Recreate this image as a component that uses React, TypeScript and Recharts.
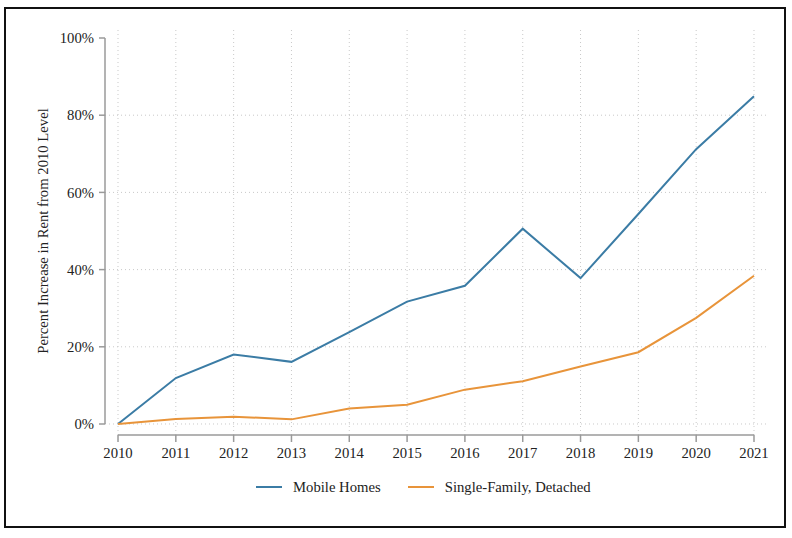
import React from 'react';
import { LineChart, Line, XAxis, YAxis, ReferenceLine } from 'recharts';

const years = [2010, 2011, 2012, 2013, 2014, 2015, 2016, 2017, 2018, 2019, 2020, 2021];
const mobileHomes = [0, 11.9, 18.0, 16.1, 23.8, 31.7, 35.8, 50.6, 37.8, 54.4, 71.2, 84.9];
const singleFamily = [0, 1.3, 1.9, 1.2, 4.0, 5.0, 8.9, 11.1, 14.9, 18.6, 27.5, 38.4];
const yTicks = [0, 20, 40, 60, 80, 100];
const yGrid = [0, 20, 40, 60, 80];

const series = [
  { key: 'mobile', name: 'Mobile Homes', color: '#3b7ca5' },
  { key: 'single', name: 'Single-Family, Detached', color: '#e8943a' },
];

const data = years.map((year, i) => ({ year, mobile: mobileHomes[i], single: singleFamily[i] }));

const X_MIN = 2009.775;
const X_MAX = 2021.225;
const Y_MIN = -2.85;
const Y_MAX = 102.85;

const font = '"Liberation Serif", "Times New Roman", serif';
const fs = 14.7;
const axisGray = '#9a9a9a';
const gridGray = '#c9c9c9';

const YLabel = ({ viewBox }: any) => {
  const cx = 43;
  const cy = viewBox.y + viewBox.height / 2;
  return (
    <text
      x={cx}
      y={cy}
      transform={`rotate(-90 ${cx} ${cy})`}
      textAnchor="middle"
      dominantBaseline="central"
      fontFamily={font}
      fontSize={fs}
      fill="#222"
    >
      Percent Increase in Rent from 2010 Level
    </text>
  );
};

const App = () => {
  return (
    <div style={{ position: 'absolute', left: 0, top: 0, width: 792, height: 538, background: '#fff', fontFamily: font }}>
      <div
        style={{
          position: 'absolute',
          left: 4,
          top: 7,
          width: 778,
          height: 517,
          border: '2px solid #111',
        }}
      />
      <div style={{ position: 'absolute', left: 0, top: 0 }}>
        <LineChart width={792} height={538} data={data} margin={{ top: 27, right: 25, bottom: 73, left: 45 }}>
          <XAxis
            dataKey="year"
            type="number"
            domain={[X_MIN, X_MAX]}
            ticks={years}
            allowDataOverflow
            height={30}
            axisLine={false}
            tickLine={{ stroke: axisGray, strokeWidth: 1.5 }}
            tickSize={7}
            tickMargin={6}
            tick={{ fontFamily: font, fontSize: fs, fill: '#222' }}
          />
          <YAxis
            type="number"
            domain={[Y_MIN, Y_MAX]}
            ticks={yTicks}
            allowDataOverflow
            width={60}
            axisLine={false}
            tickLine={{ stroke: axisGray, strokeWidth: 1.5 }}
            tickSize={6}
            tickMargin={5}
            tickFormatter={(v: number) => `${v}%`}
            tick={{ fontFamily: font, fontSize: fs, fill: '#222' }}
            label={<YLabel />}
          />
          {yGrid.map((v) => (
            <ReferenceLine key={`h${v}`} y={v} stroke={gridGray} strokeDasharray="1 3" ifOverflow="visible" />
          ))}
          {years.map((yr) => (
            <ReferenceLine key={`v${yr}`} x={yr} stroke={gridGray} strokeDasharray="1 3" ifOverflow="visible" />
          ))}
          <ReferenceLine
            segment={[{ x: X_MIN, y: 0 }, { x: X_MIN, y: 100 }]}
            stroke={axisGray}
            strokeWidth={1.5}
            ifOverflow="visible"
          />
          <ReferenceLine
            segment={[{ x: years[0], y: Y_MIN }, { x: years[years.length - 1], y: Y_MIN }]}
            stroke={axisGray}
            strokeWidth={1.5}
            ifOverflow="visible"
          />
          {series.map((s) => (
            <Line
              key={s.key}
              dataKey={s.key}
              name={s.name}
              stroke={s.color}
              strokeWidth={2}
              dot={false}
              activeDot={false}
              isAnimationActive={false}
            />
          ))}
        </LineChart>
      </div>
      <div
        style={{
          position: 'absolute',
          left: 256,
          top: 478,
          display: 'flex',
          alignItems: 'center',
          fontSize: fs,
          color: '#222',
          lineHeight: '18px',
        }}
      >
        {series.map((s, i) => (
          <div key={s.key} style={{ display: 'flex', alignItems: 'center', marginRight: i === 0 ? 27 : 0 }}>
            <div style={{ width: 26, height: 2, background: s.color, marginRight: 11 }} />
            <span>{s.name}</span>
          </div>
        ))}
      </div>
    </div>
  );
};

export default App;
